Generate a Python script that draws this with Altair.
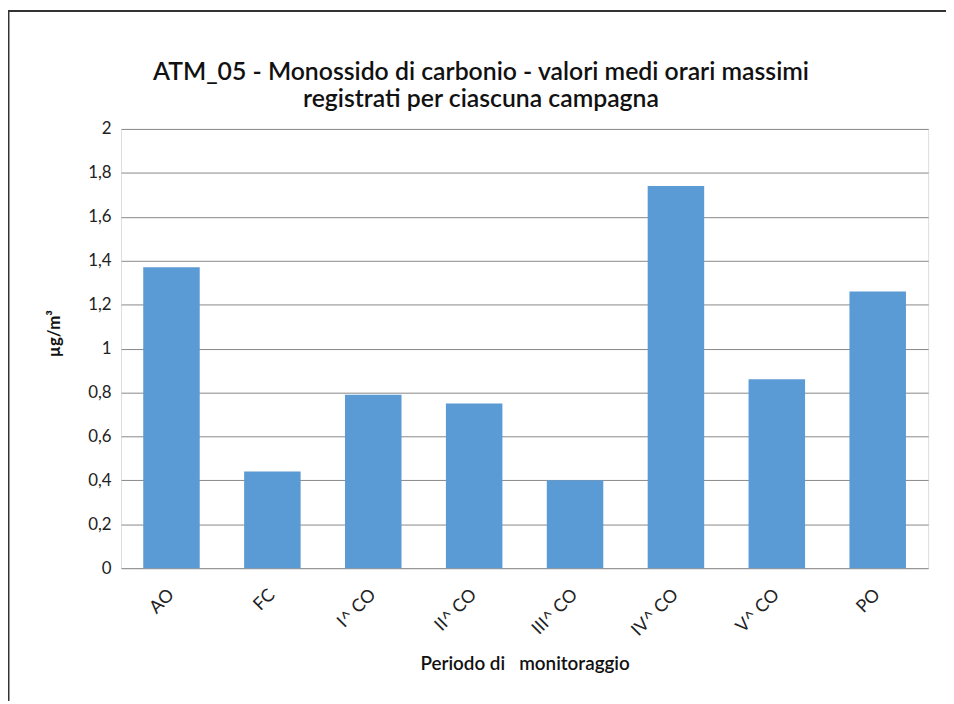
import altair as alt
import pandas as pd

periods = ["AO", "FC", "I^ CO", "II^ CO", "III^ CO", "IV^ CO", "V^ CO", "PO"]
values = [1.37, 0.44, 0.79, 0.75, 0.40, 1.74, 0.86, 1.26]
y_ticks = [0, 0.2, 0.4, 0.6, 0.8, 1, 1.2, 1.4, 1.6, 1.8, 2]

title_lines = ["ATM_05 - Monossido di carbonio - valori medi orari massimi",
               "registrati per ciascuna campagna"]
x_title = "Periodo di\u00a0\u00a0 monitoraggio"
y_title = "µg/m³"

df = pd.DataFrame({"periodo": periods, "valore": values})

W, H = 814, 443
PAD = {"left": 114, "top": 119, "right": 18, "bottom": 134}
FONT = "Lato"

bars = alt.Chart(df).mark_bar(color="#5B9BD5").encode(
    x=alt.X(
        "periodo:N",
        sort=periods,
        scale=alt.Scale(paddingInner=0.44, paddingOuter=0.22),
        axis=alt.Axis(
            title=x_title,
            labelAngle=315,
            labelAlign="right",
            labelBaseline="middle",
            labelPadding=24,
            labelFontSize=18,
            labelFont=FONT,
            labelColor="#222",
            ticks=False,
            domain=False,
            grid=False,
            titleFont=FONT,
            titleFontSize=19,
            titleFontWeight=600,
            titleColor="#111",
            titleBaseline="alphabetic",
            titleY=102,
        ),
    ),
    y=alt.Y(
        "valore:Q",
        scale=alt.Scale(domain=[0, 2], nice=False),
        axis=alt.Axis(
            values=y_ticks,
            labelExpr="replace(toString(datum.value), '.', ',')",
            labelFontSize=17,
            labelFont=FONT,
            labelColor="#222",
            labelPadding=10,
            ticks=False,
            domain=False,
            grid=True,
            gridColor="#888888",
            gridWidth=1,
            title=y_title,
            titleFont=FONT,
            titleFontSize=17,
            titleFontWeight="bold",
            titleColor="#111",
            titleAngle=270,
            titleAlign="center",
            titleBaseline="middle",
            titleX=-67,
            titleY=206,
        ),
    ),
)

frame_df = pd.DataFrame({"k": [0]})
left_border = alt.Chart(frame_df).mark_rule(color="#333", strokeWidth=2).encode(
    x=alt.value(-113.5), y=alt.value(-119), y2=alt.value(H + 134)
)
top_border = alt.Chart(frame_df).mark_rule(color="#333", strokeWidth=2).encode(
    y=alt.value(-119), x=alt.value(-114), x2=alt.value(W + 18)
)

chart = alt.layer(bars, left_border, top_border).properties(
    width=W,
    height=H,
    padding=PAD,
    autosize=alt.AutoSizeParams(type="none"),
    title=alt.TitleParams(
        text=title_lines,
        anchor="middle",
        frame="group",
        dx=-44,
        dy=103,
        offset=0,
        font=FONT,
        fontSize=25,
        fontWeight=600,
        lineHeight=27,
        color="#111",
    ),
).configure_view(stroke=None).configure(background="white")

chart.save("out.html", embed_options={"renderer": "svg", "actions": False})
